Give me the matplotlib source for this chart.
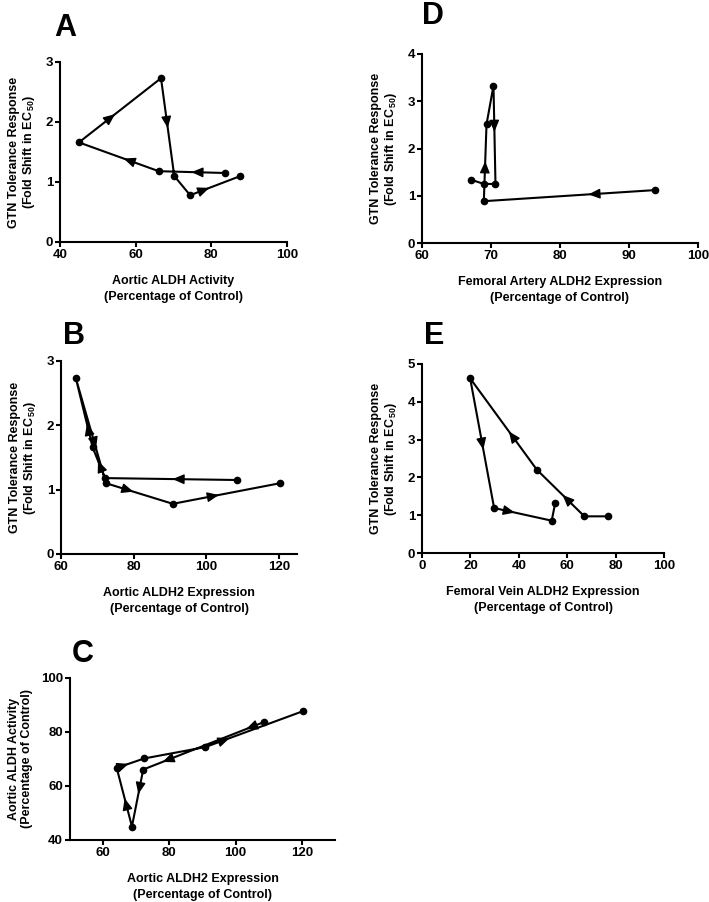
"""GTN tolerance vs ALDH activity / ALDH2 expression: five hysteresis panels A-E."""
import matplotlib
matplotlib.use("Agg")
import matplotlib.pyplot as plt

plt.rcParams["font.family"] = ["Liberation Sans", "DejaVu Sans"]
plt.rcParams["font.weight"] = "bold"
plt.rcParams["mathtext.fontset"] = "custom"
plt.rcParams["mathtext.bf"] = "Liberation Sans:bold"
plt.rcParams["mathtext.rm"] = "Liberation Sans:bold"
plt.rcParams["mathtext.default"] = "bf"

# time-course points, in visiting order
aortic_aldh2 = [108.6, 72.1, 68.7, 64.1, 72.4, 90.8, 120.3]
aortic_activity = [83.7, 66.1, 45.0, 66.7, 70.2, 74.4, 87.7]
aortic_gtn = [1.15, 1.18, 1.66, 2.73, 1.10, 0.78, 1.10]
fa_aldh2 = [93.8, 68.96, 69.35, 70.36, 70.65, 68.96, 67.1]
fa_gtn = [1.12, 0.885, 2.51, 3.33, 1.25, 1.25, 1.34]
fv_aldh2 = [76.8, 67.1, 47.5, 19.9, 29.8, 53.6, 55.0]
fv_gtn = [0.97, 0.97, 2.20, 4.62, 1.19, 0.855, 1.31]

GTN_LABEL = "GTN Tolerance Response\n(Fold Shift in EC$_{\\,50}$)"
PCT = "(Percentage of Control)"

W, H = 709, 902


def px_axes(fig, left, right, top, bottom):
    return fig.add_axes([left / W, 1 - bottom / H, (right - left) / W, (bottom - top) / H])


def panel(ax, x, y, arrows, xlim, ylim, xticks, yticks, xlabel, ylabel, letter, letter_xy):
    ax.plot(x, y, color="black", lw=1.5, marker="o", ms=4.5, zorder=3)
    for seg, frac in arrows:
        x0, y0 = x[seg], y[seg]
        x1, y1 = x[seg + 1], y[seg + 1]
        fa, fb = frac - 0.02, frac + 0.02
        ax.annotate("", xy=(x0 + fb * (x1 - x0), y0 + fb * (y1 - y0)),
                    xytext=(x0 + fa * (x1 - x0), y0 + fa * (y1 - y0)),
                    arrowprops=dict(arrowstyle="-|>,head_length=0.7,head_width=0.3",
                                    mutation_scale=10, color="black", lw=1,
                                    shrinkA=0, shrinkB=0), zorder=4)
    ax.set_xlim(*xlim)
    ax.set_ylim(*ylim)
    ax.set_xticks(xticks)
    ax.set_yticks(yticks)
    for s in ("top", "right"):
        ax.spines[s].set_visible(False)
    for s in ("left", "bottom"):
        ax.spines[s].set_linewidth(1.5)
        ax.spines[s].set_clip_on(False)
    ax.tick_params(width=1.5, length=3.5, labelsize=9.5, pad=1.5)
    ax.set_xlabel(xlabel, fontsize=9, fontweight="bold", labelpad=10, linespacing=1.45)
    ax.set_ylabel(ylabel, fontsize=9, fontweight="bold", labelpad=6, linespacing=1.1)
    ax.figure.text(letter_xy[0] / W, 1 - letter_xy[1] / H, letter, fontsize=22,
                   fontweight="bold", ha="center", va="center")


fig = plt.figure(figsize=(W / 100, H / 100), dpi=100)

axA = px_axes(fig, 60, 287, 62, 242)
panel(axA, aortic_activity, aortic_gtn,
      [(0, 0.49), (1, 0.42), (2, 0.42), (3, 0.49), (5, 0.36)],
      (40, 100), (0, 3), [40, 60, 80, 100], [0, 1, 2, 3],
      "Aortic ALDH Activity\n" + PCT, GTN_LABEL, "A", (65, 28))

axB = px_axes(fig, 61, 297, 361, 554)
panel(axB, aortic_aldh2, aortic_gtn,
      [(0, 0.47), (1, 0.54), (2, 0.32), (3, 0.65), (4, 0.39), (5, 0.41)],
      (60, 125), (0, 3), [60, 80, 100, 120], [0, 1, 2, 3],
      "Aortic ALDH2 Expression\n" + PCT, GTN_LABEL, "B", (74, 336))

axC = px_axes(fig, 70, 335, 678, 840)
panel(axC, aortic_aldh2, aortic_activity,
      [(0, 0.13), (0, 0.82), (1, 0.41), (2, 0.46), (3, 0.41), (5, 0.23)],
      (50, 130), (40, 100), [60, 80, 100, 120], [40, 60, 80, 100],
      "Aortic ALDH2 Expression\n" + PCT, "Aortic ALDH Activity\n" + PCT, "C", (83, 654))

axD = px_axes(fig, 422, 698, 54, 243)
panel(axD, fa_aldh2, fa_gtn,
      [(0, 0.37), (1, 0.50), (3, 0.45)],
      (60, 100), (0, 4), [60, 70, 80, 90, 100], [0, 1, 2, 3, 4],
      "Femoral Artery ALDH2 Expression\n" + PCT, GTN_LABEL, "D", (433, 16))

axE = px_axes(fig, 422, 664, 364, 553)
panel(axE, fv_aldh2, fv_gtn,
      [(1, 0.44), (2, 0.40), (3, 0.53), (4, 0.34)],
      (0, 100), (0, 5), [0, 20, 40, 60, 80, 100], [0, 1, 2, 3, 4, 5],
      "Femoral Vein ALDH2 Expression\n" + PCT, GTN_LABEL, "E", (434, 336))

fig.savefig("out.png", dpi=100)
